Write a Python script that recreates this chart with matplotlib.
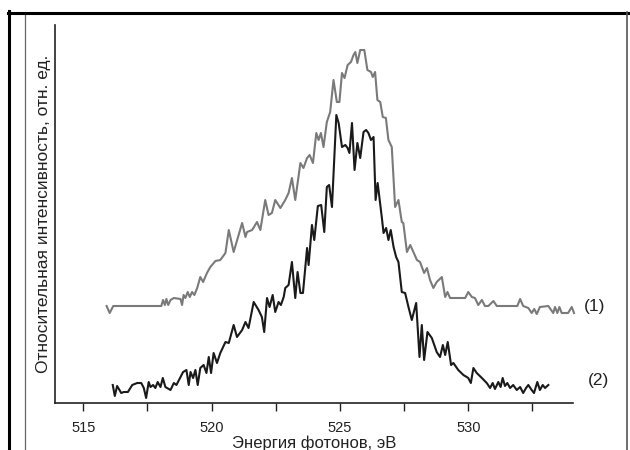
import matplotlib
matplotlib.use("Agg")
import matplotlib.pyplot as plt
from matplotlib.lines import Line2D

plt.rcParams['font.family'] = ['Liberation Sans', 'DejaVu Sans']

# Спектр (1): энергия фотонов, эВ, и интенсивность, отн. ед.
energy_1 = [515.91, 516.03, 516.17, 518.04, 518.11, 518.18, 518.24, 518.31, 518.40, 518.53,
            518.79, 518.85, 518.91, 518.98, 519.07, 519.15, 519.24, 519.33, 519.44, 519.56,
            519.67, 519.82, 519.95, 520.15, 520.34, 520.54, 520.67, 520.86, 521.19, 521.32,
            521.38, 521.58, 521.77, 521.90, 522.09, 522.22, 522.35, 522.48, 522.68, 522.87,
            523.00, 523.13, 523.26, 523.46, 523.58, 523.72, 523.82, 523.95, 524.08, 524.17,
            524.26, 524.36, 524.49, 524.62, 524.75, 524.88, 524.98, 525.08, 525.18, 525.30,
            525.43, 525.53, 525.60, 525.68, 525.79, 525.95, 526.07, 526.21, 526.28, 526.37,
            526.46, 526.57, 526.67, 526.79, 526.89, 527.02, 527.15, 527.28, 527.41, 527.47,
            527.61, 527.74, 528.00, 528.12, 528.28, 528.39, 528.51, 528.64, 528.77, 528.97,
            529.10, 529.19, 529.29, 529.88, 530.00, 530.14, 530.26, 530.39, 530.53, 530.65,
            530.78, 530.98, 531.11, 531.91, 532.02, 532.14, 532.34, 532.47, 532.57, 532.67,
            532.79, 533.12, 533.31, 533.38, 533.47, 533.55, 533.64, 533.89, 534.03, 534.12]
intensity_1 = [97, 90, 97, 97, 103, 98, 104, 98, 103, 105,
               104, 98, 108, 105, 111, 106, 111, 108, 115, 126,
               121, 130, 136, 142, 143, 150, 173, 151, 180, 166,
               171, 173, 181, 173, 203, 188, 190, 203, 195, 203,
               210, 225, 203, 240, 235, 245, 248, 240, 270, 263,
               270, 256, 281, 291, 323, 301, 301, 330, 325, 338,
               341, 348, 351, 340, 353, 353, 333, 331, 326, 331,
               303, 301, 286, 285, 263, 256, 196, 203, 181, 180,
               151, 158, 143, 141, 130, 135, 123, 115, 121, 126,
               106, 111, 105, 105, 111, 106, 105, 98, 103, 97,
               97, 102, 97, 97, 104, 97, 95, 90, 94, 89,
               96, 97, 90, 96, 90, 96, 90, 90, 96, 90]

# Спектр (2)
energy_2 = [516.15, 516.23, 516.32, 516.48, 516.58, 516.74, 516.91, 517.10, 517.26, 517.36,
            517.45, 517.55, 517.62, 517.72, 517.81, 517.90, 518.01, 518.10, 518.20, 518.40,
            518.53, 518.63, 518.79, 518.89, 519.02, 519.11, 519.18, 519.28, 519.37, 519.46,
            519.56, 519.69, 519.80, 519.89, 519.98, 520.08, 520.21, 520.34, 520.54, 520.67,
            520.86, 520.99, 521.19, 521.32, 521.44, 521.64, 521.83, 521.96, 522.05, 522.16,
            522.26, 522.38, 522.48, 522.61, 522.70, 522.81, 522.87, 523.00, 523.13, 523.26,
            523.35, 523.46, 523.56, 523.72, 523.78, 523.91, 524.00, 524.14, 524.27, 524.39,
            524.49, 524.58, 524.69, 524.86, 524.95, 525.08, 525.21, 525.30, 525.37, 525.47,
            525.57, 525.68, 525.79, 525.92, 526.02, 526.11, 526.21, 526.31, 526.39, 526.47,
            526.63, 526.70, 526.80, 526.89, 526.98, 527.09, 527.19, 527.28, 527.41, 527.54,
            527.67, 527.80, 527.97, 528.10, 528.19, 528.28, 528.41, 528.58, 528.77, 528.90,
            529.01, 529.10, 529.20, 529.33, 529.42, 529.61, 529.81, 530.00, 530.10, 530.20,
            530.33, 530.53, 530.72, 530.85, 530.95, 531.04, 531.17, 531.26, 531.34, 531.43,
            531.52, 531.63, 531.75, 531.89, 532.02, 532.14, 532.25, 532.34, 532.47, 532.56,
            532.69, 532.79, 532.90, 532.99, 533.12]
intensity_2 = [18, 7, 17, 10, 11, 11, 18, 20, 20, 15,
               5, 21, 16, 18, 15, 21, 16, 25, 16, 13,
               20, 18, 26, 31, 33, 18, 31, 25, 33, 18,
               35, 38, 30, 46, 30, 50, 40, 50, 61, 60,
               78, 66, 73, 81, 75, 101, 93, 86, 71, 105,
               96, 108, 91, 101, 98, 106, 115, 118, 141, 105,
               131, 110, 110, 155, 138, 178, 163, 197, 198, 171,
               216, 218, 196, 288, 280, 256, 258, 255, 250, 280,
               233, 260, 245, 271, 273, 270, 263, 266, 203, 220,
               186, 170, 175, 163, 173, 156, 146, 141, 111, 110,
               96, 83, 100, 46, 78, 43, 71, 65, 51, 46,
               58, 48, 61, 38, 40, 33, 28, 25, 20, 35,
               30, 25, 20, 15, 20, 14, 21, 16, 25, 17,
               20, 15, 18, 13, 16, 10, 15, 18, 13, 10,
               21, 13, 18, 15, 18]

major_ticks = [515, 520, 525, 530]
minor_ticks = [517.5, 522.5, 527.5, 532.5]
curve_labels = ['(1)', '(2)']

fig = plt.figure(figsize=(6.3, 4.5), dpi=100)
ax = fig.add_axes([55 / 630, 1 - 403 / 450, 518 / 630, 378 / 450])

ax.plot(energy_1, intensity_1, color='#7a7a7a', lw=1.5, clip_on=False)
ax.plot(energy_2, intensity_2, color='#1a1a1a', lw=1.5, clip_on=False)

ax.set_xlim(513.9, 534.08)
ax.set_ylim(0, 378)

# подписи кривых справа от графика
ax.text(534.5, 96, curve_labels[0], fontsize=12.5, color='#222222',
        va='center', ha='left', clip_on=False)
ax.text(534.65, 23, curve_labels[1], fontsize=12.5, color='#222222',
        va='center', ha='left', clip_on=False)

ax.spines['top'].set_visible(False)
ax.spines['right'].set_visible(False)
for side in ['left', 'bottom']:
    ax.spines[side].set_linewidth(1.2)
    ax.spines[side].set_color('#222222')

ax.set_yticks([])
ax.set_xticks(major_ticks)
ax.set_xticks(minor_ticks, minor=True)
ax.tick_params(axis='x', which='both', direction='out', length=6, width=1,
               color='#222222', labelsize=10.5, labelcolor='#222222', pad=7)

ax.set_xlabel('Энергия фотонов, эВ', fontsize=12, color='#222222', labelpad=0)
ax.set_ylabel('Относительная интенсивность, отн. ед.', fontsize=12.5, color='#222222', labelpad=3)

# рамка вокруг рисунка
fig.add_artist(Line2D([9 / 630, 9 / 630], [0, 1 - 11 / 450], color='black', lw=2.2))
fig.add_artist(Line2D([25 / 630, 25 / 630], [0, 1 - 12 / 450], color='#666666', lw=0.9))
fig.add_artist(Line2D([8 / 630, 628 / 630], [1 - 12.5 / 450, 1 - 12.5 / 450], color='black', lw=2.2))
fig.add_artist(Line2D([627 / 630, 627 / 630], [0, 1 - 12 / 450], color='#555555', lw=1.2))

fig.savefig('out.png', dpi=100)
